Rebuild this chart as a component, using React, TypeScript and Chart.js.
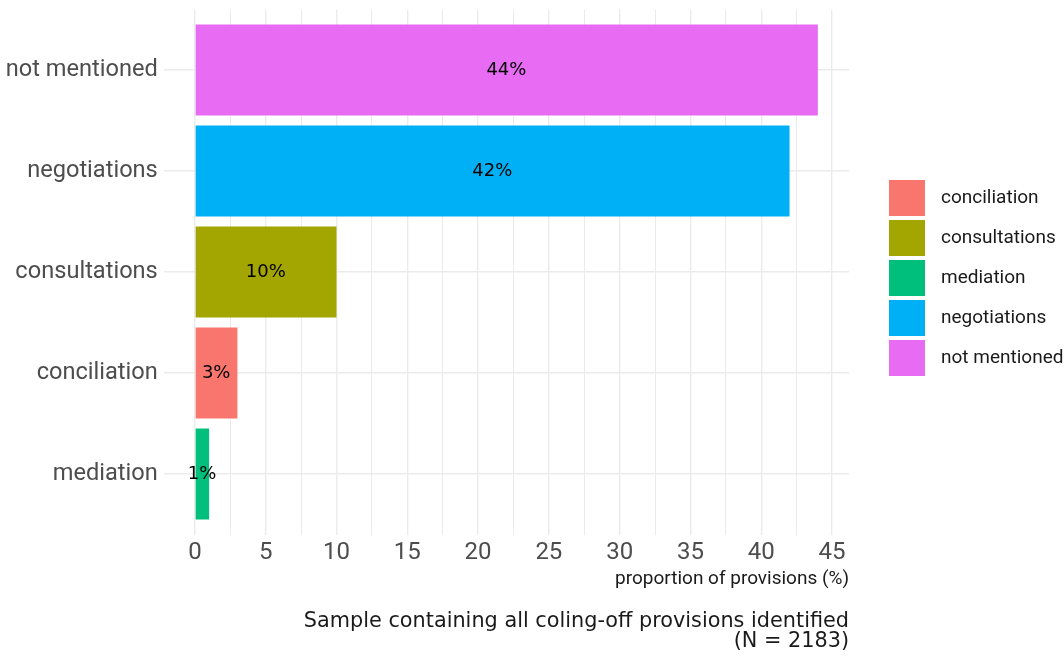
import React, { useEffect, useRef } from "react";
import { Chart, registerables } from "chart.js";

Chart.register(...registerables);

const categories = ["not mentioned", "negotiations", "consultations", "conciliation", "mediation"];
const values = [44, 42, 10, 3, 1];
const barColors = ["#E76BF3", "#00B0F6", "#A3A500", "#F8766D", "#00BF7D"];
const gridValues = [0, 2.5, 5, 7.5, 10, 12.5, 15, 17.5, 20, 22.5, 25, 27.5, 30, 32.5, 35, 37.5, 40, 42.5, 45];
const legendLabels = ["conciliation", "consultations", "mediation", "negotiations", "not mentioned"];
const legendColors = ["#F8766D", "#A3A500", "#00BF7D", "#00B0F6", "#E76BF3"];
const xTitle = "proportion of provisions (%)";
const captionLines = ["Sample containing all coling-off provisions identified", "(N = 2183)"];

const W = 1064;
const H = 657;
const AXIS_FONT = "Roboto";

const overlayPlugin = {
  id: "overlay",
  afterDatasetsDraw(chart: any) {
    const ctx = chart.ctx;
    const meta = chart.getDatasetMeta(0);
    const xs = chart.scales.x;
    ctx.save();
    ctx.fillStyle = "#000000";
    ctx.font = "18px 'DejaVu Sans'";
    ctx.textAlign = "center";
    ctx.textBaseline = "middle";
    meta.data.forEach((el: any, i: number) => {
      const v = values[i];
      ctx.fillText(`${v}%`, xs.getPixelForValue(v / 2), el.y);
    });
    ctx.restore();
  },
  afterDraw(chart: any) {
    const ctx = chart.ctx;
    const area = chart.chartArea;
    ctx.save();
    ctx.fillStyle = "#1a1a1a";
    ctx.font = `19px ${AXIS_FONT}`;
    ctx.textAlign = "right";
    ctx.textBaseline = "middle";
    ctx.fillText(xTitle, area.right, 579);
    ctx.font = "20.8px 'DejaVu Sans'";
    ctx.fillText(captionLines[0], area.right, 622);
    ctx.fillText(captionLines[1], area.right, 642);
    const boxX = 889;
    const boxSize = 36;
    const step = 40;
    const top0 = 180;
    ctx.textAlign = "left";
    ctx.font = `19px ${AXIS_FONT}`;
    legendLabels.forEach((lab, i) => {
      const y = top0 + i * step;
      ctx.fillStyle = legendColors[i];
      ctx.fillRect(boxX, y, boxSize, boxSize);
      ctx.fillStyle = "#1a1a1a";
      ctx.fillText(lab, 941, y + boxSize / 2);
    });
    ctx.restore();
  },
};

export default function App() {
  const ref = useRef<HTMLCanvasElement>(null);
  useEffect(() => {
    if (!ref.current) return;
    const chart = new Chart(ref.current, {
      type: "bar",
      data: {
        datasets: [
          {
            data: categories.map((c, i) => ({ x: values[i], y: i + 1 })),
            backgroundColor: barColors,
            borderWidth: 0,
            categoryPercentage: 0.9,
            barPercentage: 1,
          },
        ],
      },
      options: {
        indexAxis: "y",
        responsive: false,
        animation: false,
        devicePixelRatio: 1,
        layout: { padding: { left: 0, top: 9.4, right: 215, bottom: 0 } },
        plugins: { legend: { display: false }, tooltip: { enabled: false } },
        scales: {
          x: {
            type: "linear",
            min: -2.2,
            max: 46.2,
            offset: false,
            afterBuildTicks: (scale: any) => {
              scale.ticks = gridValues.map((v) => ({ value: v }));
            },
            afterFit: (scale: any) => {
              scale.height = H - 534.6;
              scale.paddingLeft = 0;
              scale.paddingRight = 0;
            },
            border: { display: false },
            grid: {
              color: "#EBEBEB",
              offset: false,
              lineWidth: (c: any) => (c.tick && c.tick.value % 5 === 0 ? 1.4 : 1.0),
              drawTicks: false,
            },
            ticks: {
              autoSkip: false,
              maxRotation: 0,
              padding: 4,
              color: "#4D4D4D",
              font: { family: AXIS_FONT, size: 24 },
              callback: (v: any) => (Number(v) % 5 === 0 ? String(v) : ""),
            },
          },
          y: {
            type: "linear",
            min: 0.4,
            max: 5.6,
            reverse: true,
            offset: false,
            afterBuildTicks: (scale: any) => {
              scale.ticks = categories.map((c, i) => ({ value: i + 1 }));
            },
            afterFit: (scale: any) => {
              scale.width = 163.8;
              scale.paddingTop = 0;
              scale.paddingBottom = 0;
            },
            border: { display: false },
            grid: { color: "#EBEBEB", lineWidth: 1.4, drawTicks: false, offset: false },
            ticks: {
              autoSkip: false,
              padding: 6,
              color: "#4D4D4D",
              font: { family: AXIS_FONT, size: 23.6 },
              callback: (v: any) => categories[Math.round(Number(v)) - 1] ?? "",
            },
          },
        },
      },
      plugins: [overlayPlugin],
    });
    return () => chart.destroy();
  }, []);
  return (
    <div style={{ position: "fixed", left: 0, top: 0, width: W, height: H, background: "#fff" }}>
      <canvas ref={ref} width={W} height={H} style={{ width: W, height: H, display: "block" }} />
    </div>
  );
}
